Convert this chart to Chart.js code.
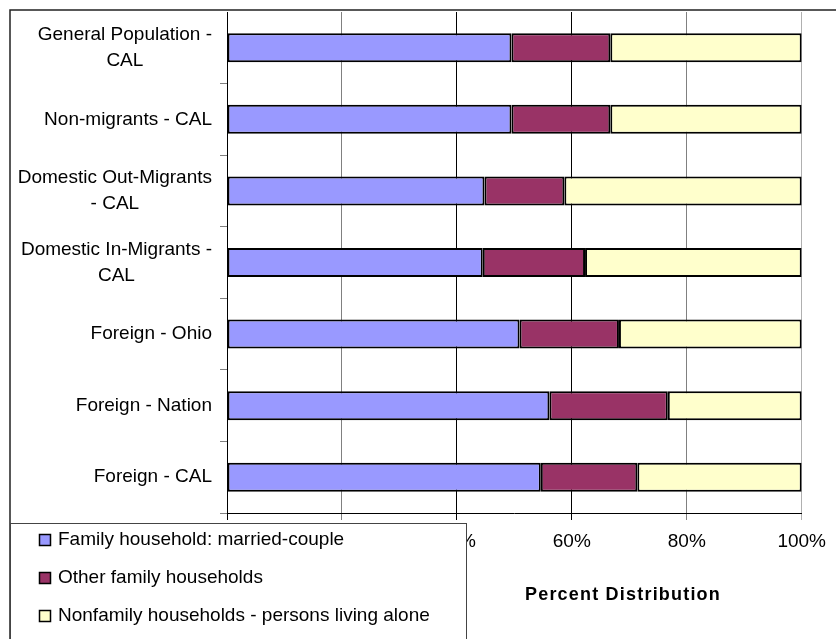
<!DOCTYPE html>
<html>
<head>
<meta charset="utf-8">
<script src="https://cdn.jsdelivr.net/npm/chart.js@4/dist/chart.umd.min.js"></script>
<style>
  html, body { margin: 0; padding: 0; background: #fff; }
  #wrap { width: 836px; height: 639px; position: relative; }
</style>
</head>
<body>
<div id="wrap"><canvas id="householdChart" width="836" height="639"></canvas></div>
<script>
// === Data ===
const categories = [
  ['General Population -', 'CAL'],
  ['Non-migrants - CAL'],
  ['Domestic Out-Migrants', '- CAL'],
  ['Domestic In-Migrants -', 'CAL'],
  ['Foreign - Ohio'],
  ['Foreign - Nation'],
  ['Foreign - CAL']
];
const seriesNames = [
  'Family household: married-couple',
  'Other family households',
  'Nonfamily households - persons living alone'
];
const marriedCouple = [49.5, 49.5, 44.8, 44.5, 50.9, 56.1, 54.6];
const otherFamily   = [17.2, 17.2, 13.9, 17.8, 17.3, 20.6, 16.8];
const nonFamily     = [33.3, 33.3, 41.3, 37.7, 31.8, 23.3, 28.6];
const xTicks = [0, 20, 40, 60, 80, 100];
const xTitle = 'Percent Distribution';

const colors = ['#9999FF', '#993366', '#FFFFCC'];
const FONT = '"Liberation Sans", Arial, sans-serif';

// === Custom drawing: frame, centered category labels, axis title, legend box ===
const excelLook = {
  id: 'excelLook',
  afterDraw(chart) {
    const c = chart.ctx;
    const y = chart.scales.y;
    c.save();

    // outer frame (cropped chart border)
    c.strokeStyle = '#222';
    c.lineWidth = 1.5;
    c.beginPath();
    c.moveTo(10, 640);
    c.lineTo(10, 10);
    c.lineTo(836, 10);
    c.stroke();

    // category labels: block right-aligned, lines centered inside block
    c.font = '19px ' + FONT;
    c.fillStyle = '#000';
    c.textAlign = 'center';
    c.textBaseline = 'middle';
    categories.forEach((lines, i) => {
      const py = y.getPixelForTick(i);
      const w = Math.max(...lines.map(l => c.measureText(l).width));
      const cx = 212 - w / 2;
      const lh = 26;
      lines.forEach((l, k) => {
        c.fillText(l, cx, py - (lines.length - 1) * lh / 2 + k * lh);
      });
    });

    // axis title
    c.font = 'bold 18px ' + FONT;
    c.letterSpacing = '1.2px';
    c.fillText(xTitle, 623, 595);
    c.letterSpacing = '0px';

    // legend box over the lower-left corner
    c.fillStyle = '#fff';
    c.fillRect(10, 523, 457, 130);
    c.strokeStyle = '#444';
    c.lineWidth = 1;
    c.strokeRect(10.5, 523.5, 456, 130);
    c.font = '19px ' + FONT;
    c.textAlign = 'left';
    chart.data.datasets.forEach((ds, i) => {
      const ry = 540 + i * 38;
      c.fillStyle = ds.backgroundColor;
      c.fillRect(39.5, ry - 5.5, 11, 11);
      c.strokeStyle = '#000';
      c.lineWidth = 1.5;
      c.strokeRect(39.5, ry - 5.5, 11, 11);
      c.fillStyle = '#000';
      c.fillText(ds.label, 58, ry);
    });
    c.restore();
  }
};

const gridColors = ['#000', '#808080', '#000', '#000', '#808080', '#b0b0b0'];

const ctx = document.getElementById('householdChart').getContext('2d');
const householdChart = new Chart(ctx, {
  type: 'bar',
  data: {
    labels: categories,
    datasets: [marriedCouple, otherFamily, nonFamily].map((vals, i) => ({
      label: seriesNames[i],
      data: vals,
      backgroundColor: colors[i],
      borderColor: '#000',
      borderWidth: 2,
      borderSkipped: false,
      barPercentage: 0.405,
      categoryPercentage: 1
    }))
  },
  options: {
    indexAxis: 'y',
    responsive: false,
    animation: false,
    layout: { padding: { top: 12, right: 33, left: 0, bottom: 0 } },
    plugins: {
      legend: { display: false },
      tooltip: { enabled: false }
    },
    scales: {
      x: {
        stacked: true,
        min: 0,
        max: 100,
        afterFit: s => { s.height = 126; },
        afterBuildTicks: s => { s.ticks = xTicks.map(v => ({ value: v })); },
        ticks: {
          callback: v => v + '%',
          color: '#000',
          font: { family: FONT, size: 19 },
          padding: 10,
          maxRotation: 0
        },
        grid: {
          color: c => gridColors[c.index] || '#000',
          lineWidth: 1,
          tickLength: 7,
          drawOnChartArea: true
        },
        border: { color: '#000', width: 1 }
      },
      y: {
        stacked: true,
        afterFit: s => { s.width = 227; },
        ticks: { display: false },
        grid: {
          offset: true,
          drawOnChartArea: false,
          color: c => (c.index === 0 ? 'rgba(0,0,0,0)' : '#808080'),
          tickLength: 7
        },
        border: { color: '#000', width: 1 }
      }
    }
  },
  plugins: [excelLook]
});
</script>
</body>
</html>
